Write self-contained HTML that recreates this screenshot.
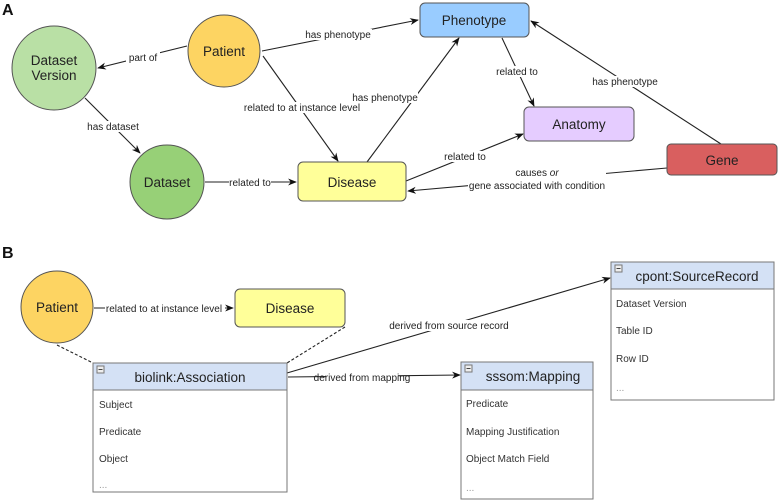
<!DOCTYPE html>
<html><head><meta charset="utf-8"><style>
html,body{margin:0;padding:0;background:#fff;}
svg{display:block;font-family:"Liberation Sans",Arial,sans-serif;}
.l{font-size:10px;fill:#222;}
.n{font-size:13.5px;fill:#222;}
.it{font-size:10px;fill:#333;}
</style></head><body>
<svg width="780" height="502" viewBox="0 0 780 502" xmlns="http://www.w3.org/2000/svg">
<defs>
<marker id="a" viewBox="0 0 10 10" refX="9" refY="5" markerWidth="8" markerHeight="8" orient="auto"><path d="M0,1 L10,5 L0,9 L3,5 z" fill="#111"/></marker>
</defs>
<text x="2" y="15" font-size="16" font-weight="bold" fill="#111">A</text>
<text x="2" y="258" font-size="16" font-weight="bold" fill="#111">B</text>

<g stroke="#222" stroke-width="1.1" fill="none">
<line x1="187" y1="46" x2="98" y2="68" marker-end="url(#a)"/>
<line x1="262" y1="51" x2="418" y2="20" marker-end="url(#a)"/>
<line x1="263" y1="56" x2="338" y2="161" marker-end="url(#a)"/>
<line x1="85" y1="98" x2="140" y2="153" marker-end="url(#a)"/>
<line x1="205" y1="182" x2="296" y2="182" marker-end="url(#a)"/>
<line x1="367" y1="162" x2="459" y2="38" marker-end="url(#a)"/>
<line x1="502" y1="38" x2="534" y2="106" marker-end="url(#a)"/>
<line x1="406" y1="181" x2="523" y2="134" marker-end="url(#a)"/>
<line x1="721" y1="144" x2="531" y2="21" marker-end="url(#a)"/>
<line x1="667" y1="168" x2="408" y2="191" marker-end="url(#a)"/>
<line x1="94" y1="308" x2="233" y2="308" marker-end="url(#a)"/>
<line x1="287" y1="373" x2="610" y2="278" marker-end="url(#a)"/>
<line x1="288" y1="377" x2="460" y2="375" marker-end="url(#a)"/>
<line x1="57" y1="345" x2="93" y2="363" stroke-dasharray="3,2"/>
<line x1="345" y1="327" x2="287" y2="363" stroke-dasharray="3,2"/>
</g>

<!-- nodes A -->
<g stroke="#555" stroke-width="1">
<circle cx="224" cy="51" r="36" fill="#fdd462"/>
<circle cx="54" cy="68" r="42" fill="#b9e0a5"/>
<circle cx="167" cy="182" r="37" fill="#97d077"/>
<rect x="298" y="162" width="108" height="39" rx="5" fill="#ffff99"/>
<rect x="420" y="3" width="109" height="34" rx="5" fill="#99ccff"/>
<rect x="524" y="107" width="110" height="34" rx="5" fill="#e5ccff"/>
<rect x="667" y="144" width="110" height="31" rx="4" fill="#d95f5f"/>
<circle cx="57" cy="307" r="36" fill="#fdd462"/>
<rect x="235" y="289" width="110" height="38" rx="5" fill="#ffff99"/>
</g>
<g class="n" text-anchor="middle">
<text x="224" y="56">Patient</text>
<text x="54" y="65">Dataset</text>
<text x="54" y="80">Version</text>
<text x="167" y="187">Dataset</text>
<text x="352" y="187">Disease</text>
<text x="474" y="25">Phenotype</text>
<text x="579" y="129">Anatomy</text>
<text x="722" y="165">Gene</text>
<text x="57" y="312">Patient</text>
<text x="290" y="313">Disease</text>
</g>

<!-- edge labels -->
<g class="l" text-anchor="middle">
<rect x="126" y="52" width="34" height="11" fill="#fff"/><text x="143" y="61">part of</text>
<rect x="306" y="29" width="66" height="11" fill="#fff"/><text x="338" y="38">has phenotype</text>
<rect x="240" y="102" width="124" height="11" fill="#fff"/><text x="302" y="111">related to at instance level</text>
<rect x="86" y="121" width="54" height="11" fill="#fff"/><text x="113" y="130">has dataset</text>
<rect x="229" y="177" width="42" height="11" fill="#fff"/><text x="250" y="186">related to</text>
<rect x="352" y="92" width="66" height="11" fill="#fff"/><text x="385" y="101">has phenotype</text>
<rect x="496" y="66" width="42" height="11" fill="#fff"/><text x="517" y="75">related to</text>
<rect x="444" y="151" width="42" height="11" fill="#fff"/><text x="465" y="160">related to</text>
<rect x="592" y="76" width="66" height="11" fill="#fff"/><text x="625" y="85">has phenotype</text>
<rect x="468" y="167" width="138" height="24" fill="#fff"/>
<text x="537" y="176">causes <tspan font-style="italic">or</tspan></text>
<text x="537" y="189">gene associated with condition</text>
<rect x="105" y="303" width="120" height="11" fill="#fff"/><text x="164" y="312">related to at instance level</text>
<rect x="388" y="320" width="122" height="11" fill="#fff"/><text x="449" y="329">derived from source record</text>
<rect x="326" y="372" width="72" height="11" fill="#fff"/><text x="362" y="381">derived from mapping</text>
</g>

<!-- class boxes -->
<g stroke="#777" stroke-width="1">
<rect x="93" y="363" width="194" height="129" fill="#fff"/>
<rect x="93" y="363" width="194" height="27" fill="#d4e1f5"/>
<rect x="611" y="262" width="163" height="138" fill="#fff"/>
<rect x="611" y="262" width="163" height="27" fill="#d4e1f5"/>
<rect x="461" y="362" width="132" height="137" fill="#fff"/>
<rect x="461" y="362" width="132" height="28" fill="#d4e1f5"/>
<rect x="97" y="366" width="7" height="7" fill="#eee"/>
<rect x="615" y="265" width="7" height="7" fill="#eee"/>
<rect x="465" y="365" width="7" height="7" fill="#eee"/>
</g>
<g stroke="#444" stroke-width="1"><line x1="98.5" y1="369.5" x2="102.5" y2="369.5"/><line x1="616.5" y1="268.5" x2="620.5" y2="268.5"/><line x1="466.5" y1="368.5" x2="470.5" y2="368.5"/></g>
<g class="n" text-anchor="middle">
<text x="190" y="382">biolink:Association</text>
<text x="697" y="281">cpont:SourceRecord</text>
<text x="533" y="381">sssom:Mapping</text>
</g>
<g class="it">
<text x="99" y="408">Subject</text>
<text x="99" y="435">Predicate</text>
<text x="99" y="462">Object</text>
<text x="99" y="488" fill="#999">...</text>
<text x="616" y="307">Dataset Version</text>
<text x="616" y="334">Table ID</text>
<text x="616" y="362">Row ID</text>
<text x="616" y="391" fill="#999">...</text>
<text x="466" y="407">Predicate</text>
<text x="466" y="435">Mapping Justification</text>
<text x="466" y="462">Object Match Field</text>
<text x="466" y="491" fill="#999">...</text>
</g>
</svg>
</body></html>
